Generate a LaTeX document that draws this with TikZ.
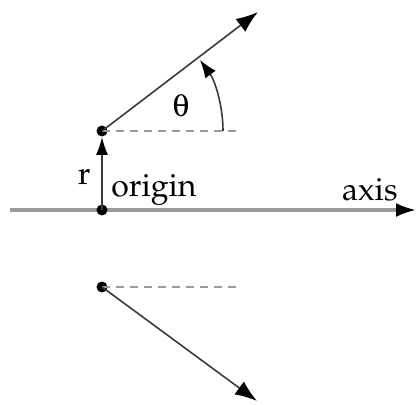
\documentclass[tikz,border=0pt]{standalone}
\usepackage[T1]{fontenc}
\usepackage{mathpazo}
\usepackage[Symbol]{upgreek}
\usetikzlibrary{arrows.meta,calc}
\definecolor{axisgray}{HTML}{9A9A9A}
\definecolor{raygray}{HTML}{3A3A3A}
\definecolor{dashgray}{HTML}{9A9A9A}
\begin{document}
\begin{tikzpicture}[x=0.5pt,y=-0.5pt,
  dot/.style={circle,fill=black,inner sep=0pt,minimum size=5.5pt},
  ray/.style={draw=raygray,line width=0.8pt,-{Latex[length=11pt,width=8pt,color=black]}},
  axisline/.style={draw=axisgray,line width=1.6pt,-{Latex[length=10pt,width=7pt,color=black]}},
  dashline/.style={draw=dashgray,line width=0.8pt,dash pattern=on 4pt off 3pt},
  lbl/.style={inner sep=0pt,font=\fontsize{16}{19}\selectfont}]
\useasboundingbox (0,0) rectangle (416,405);
\coordinate (A0) at (10,210);
\coordinate (A1) at (416,210);
\coordinate (R1) at (258,12);
\coordinate (R2) at (257,401);
\coordinate (D1) at (240,131);
\coordinate (D2) at (237,287);
\draw[axisline] (A0) -- (A1);
\node[dot] (O) at (102,210) {};
\node[dot] (P) at (102,131) {};
\node[dot] (Q) at (102,287) {};
\draw[dashline] (P.center) -- (D1);
\draw[dashline] (Q.center) -- (D2);
\draw[ray] (P.center) -- (R1);
\draw[ray] (Q.center) -- (R2);
\draw[draw=raygray,line width=0.8pt,-{Latex[length=9pt,width=6pt,color=black]}] (O.center) -- (P.south);
\draw[draw=raygray,line width=0.8pt,-{Latex[length=9pt,width=6.5pt,color=black]}] ($(P.center)+(121,0)$) arc[start angle=0,end angle=36,radius=60.5pt];
\node[lbl,anchor=base] (th) at (181,117) {$\uptheta$};
\node[lbl,anchor=base east] (r) at (91,185) {r};
\node[lbl,anchor=base west] (org) at (111,197) {origin};
\node[lbl,anchor=base east] (ax) at (398,201) {axis};
\end{tikzpicture}
\end{document}
